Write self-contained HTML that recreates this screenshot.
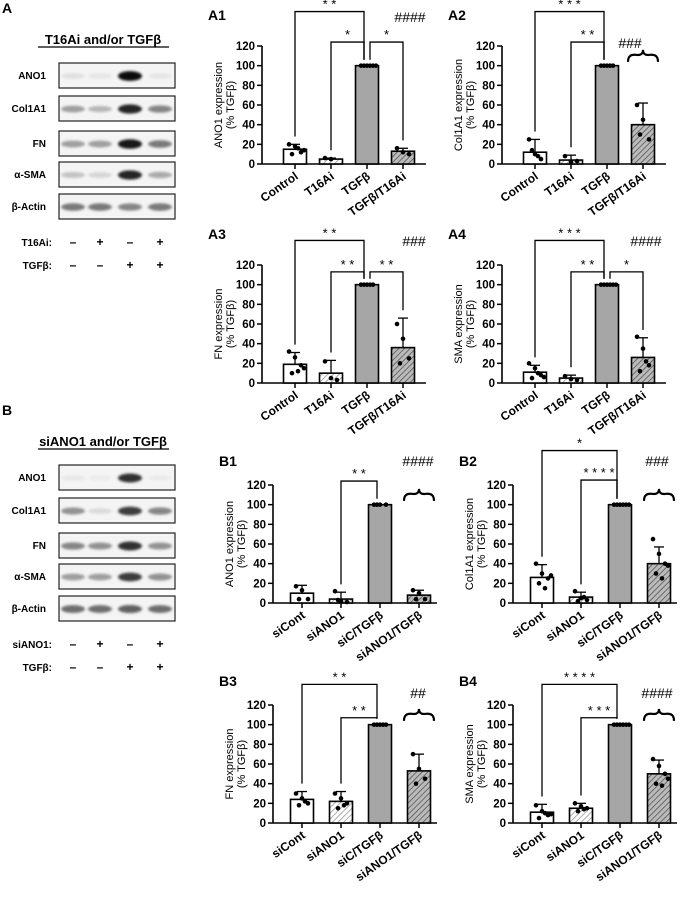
<!DOCTYPE html>
<html><head><meta charset="utf-8"><style>
html,body{margin:0;padding:0;background:#fff}
svg{display:block;font-family:"Liberation Sans",Arial,sans-serif}
</style></head><body>
<svg id="fig" width="680" height="900" viewBox="0 0 680 900" xmlns="http://www.w3.org/2000/svg">
<defs>
<pattern id="hatchLight" patternUnits="userSpaceOnUse" width="4" height="4" patternTransform="rotate(45)"><rect width="4" height="4" fill="#fff"/><line x1="0" y1="0" x2="0" y2="4" stroke="#999" stroke-width="1.6"/></pattern>
<pattern id="hatchDark" patternUnits="userSpaceOnUse" width="4" height="4" patternTransform="rotate(45)"><rect width="4" height="4" fill="#bbb"/><line x1="0" y1="0" x2="0" y2="4" stroke="#555" stroke-width="1.6"/></pattern>
<filter id="blur" x="-50%" y="-100%" width="200%" height="300%"><feGaussianBlur stdDeviation="1.4"/></filter>
</defs>
<g id="root"></g>
</svg>
<script>
// ---------- chart data ----------
const catsA = ["Control","T16Ai","TGFβ","TGFβ/T16Ai"];
const catsB = ["siCont","siANO1","siC/TGFβ","siANO1/TGFβ"];
const titlesA = ["ANO1 expression","Col1A1 expression","FN expression","SMA expression"];
const titlesB = ["ANO1 expression","Col1A1 expression","FN expression","SMA expression"];
const yTicks = [0,20,40,60,80,100,120];
const valsA1 = [15,5,100,13], errA1 = [5,1,0,3];
const valsA2 = [12,4,100,40], errA2 = [13,5,0,22];
const valsA3 = [19,10,100,36], errA3 = [12,13,0,30];
const valsA4 = [11,5,100,26], errA4 = [7,3,0,20];
const valsB1 = [10,4,100,8], errB1 = [8,7,0,5];
const valsB2 = [26,6,100,40], errB2 = [13,5,0,17];
const valsB3 = [24,22,100,53], errB3 = [8,10,0,17];
const valsB4 = [11,15,100,50], errB4 = [8,5,0,14];
const ptsA1 = [[20,18,12,10,16,14],[6,5],[100,100,100,100,100,100],[16,12,10]];
const ptsA2 = [[25,10,5,14,8],[8,2,3],[100,100,100,100,100],[60,45,25,30]];
const ptsA3 = [[32,26,18,10,12,15],[22,5,3],[100,100,100,100,100],[60,45,25,20]];
const ptsA4 = [[20,15,8,5,10,6],[7,4,3],[100,100,100,100,100,100],[47,35,18,12,22]];
const ptsB1 = [[17,13,4,4],[12,2,1,3],[100,100,100,100],[13,10,4,4]];
const ptsB2 = [[40,30,25,20,15,28],[12,5,3,2,6],[100,100,100,100,100,100],[65,50,40,30,25,38]];
const ptsB3 = [[30,25,20,18,22],[30,25,20,15,18],[100,100,100,100,100],[70,55,45,40]];
const ptsB4 = [[18,12,8,5,10,9],[20,17,15,12,14],[100,100,100,100,100,100],[65,58,50,40,38,45]];
// significance: [from,to,level(value units),label]
const sigA1 = [[0,2,155,"* *"],[1,2,124,"*"],[2,3,124,"*"]];
const sigA2 = [[0,2,155,"* * *"],[1,2,124,"* *"]];
const sigA3 = [[0,2,145,"* *"],[1,2,113,"* *"],[2,3,113,"* *"]];
const sigA4 = [[0,2,145,"* * *"],[1,2,113,"* *"],[2,3,113,"*"]];
const sigB1 = [[1,2,124,"* *"]];
const sigB2 = [[0,2,155,"*"],[1,2,125,"* * * *"]];
const sigB3 = [[0,2,141,"* *"],[1,2,107,"* *"]];
const sigB4 = [[0,2,141,"* * * *"],[1,2,107,"* * *"]];
const hashes = ["####","###","###","####","####","###","##","####"];

const NS="http://www.w3.org/2000/svg";
const root=document.getElementById('root');
function el(tag,attrs,parent,text){const e=document.createElementNS(NS,tag);for(const k in attrs)e.setAttribute(k,attrs[k]);if(text!==undefined)e.textContent=text;(parent||root).appendChild(e);return e;}

const charts=[
 {id:"a1",lab:"A1",ax:262,y0:164,cats:catsA,t:titlesA[0],v:valsA1,e:errA1,p:ptsA1,s:sigA1,brace:false,h:hashes[0],hx:410,hy:22,off:33,sp:36},
 {id:"a2",lab:"A2",ax:502,y0:164,cats:catsA,t:titlesA[1],v:valsA2,e:errA2,p:ptsA2,s:sigA2,brace:true,h:hashes[1],hx:630,hy:48,off:33,sp:36},
 {id:"a3",lab:"A3",ax:262,y0:383,cats:catsA,t:titlesA[2],v:valsA3,e:errA3,p:ptsA3,s:sigA3,brace:false,h:hashes[2],hx:414,hy:246,off:33,sp:36},
 {id:"a4",lab:"A4",ax:502,y0:383,cats:catsA,t:titlesA[3],v:valsA4,e:errA4,p:ptsA4,s:sigA4,brace:false,h:hashes[3],hx:646,hy:246,off:33,sp:36},
 {id:"b1",lab:"B1",ax:273,y0:603,cats:catsB,t:titlesB[0],v:valsB1,e:errB1,p:ptsB1,s:sigB1,brace:true,h:hashes[4],hx:418,hy:466,off:29,sp:39},
 {id:"b2",lab:"B2",ax:513,y0:603,cats:catsB,t:titlesB[1],v:valsB2,e:errB2,p:ptsB2,s:sigB2,brace:true,h:hashes[5],hx:657,hy:466,off:29,sp:39},
 {id:"b3",lab:"B3",ax:273,y0:823,cats:catsB,t:titlesB[2],v:valsB3,e:errB3,p:ptsB3,s:sigB3,brace:true,h:hashes[6],hx:418,hy:698,off:29,sp:39},
 {id:"b4",lab:"B4",ax:513,y0:823,cats:catsB,t:titlesB[3],v:valsB4,e:errB4,p:ptsB4,s:sigB4,brace:true,h:hashes[7],hx:657,hy:698,off:29,sp:39}
];
const fills=["#fff","url(#hatchLight)","#a6a6a6","url(#hatchDark)"];
const K=118/120;
charts.forEach(c=>{
 const g=el('g',{});
 
 
 const y=v=>c.y0-v*K;
 const x=i=>c.ax+c.off+i*c.sp;
 const bw=23;
 const lab=el('text',{x:c.ax-54,y:(c.id[0]=='a'?c.y0-144:c.y0-137),'font-size':14,'font-weight':'bold'},g,c.lab);
 
 
 const ya=el('line',{x1:c.ax,y1:y(120),x2:c.ax,y2:c.y0,stroke:'#000','stroke-width':1.6},g);
 
 
 yTicks.forEach(t=>{
  el('line',{x1:c.ax-5,y1:y(t),x2:c.ax,y2:y(t),stroke:'#000','stroke-width':1.5},g);
  const tl=el('text',{x:c.ax-7,y:y(t)+4,'font-size':11.5,'font-weight':'bold','text-anchor':'end'},g,t);
  
  
 });
 const xa=el('line',{x1:c.ax,y1:c.y0,x2:c.ax+164,y2:c.y0,stroke:'#000','stroke-width':1.6},g);
 
 
 const tx=c.ax-40, ty=y(60);
 const yt=el('text',{transform:`translate(${tx},${ty}) rotate(-90)`,'font-size':11,'text-anchor':'middle'},g);
 
 
 el('tspan',{x:0,y:0},yt,c.t);
 el('tspan',{x:0,y:12},yt,'(% TGFβ)');
 c.cats.forEach((cat,i)=>{
  const cx=x(i);
  const v=c.v[i];
  const b=el('rect',{x:cx-bw/2,y:y(v),width:bw,height:v*K,fill:fills[i],stroke:'#000','stroke-width':1.6},g);
  
  
  el('line',{x1:cx,y1:c.y0,x2:cx,y2:c.y0+5,stroke:'#000','stroke-width':1.5},g);
  if(c.e[i]>0){
   el('line',{x1:cx,y1:y(v+c.e[i]),x2:cx,y2:y(v),stroke:'#000','stroke-width':1.3},g);
   el('line',{x1:cx-5,y1:y(v+c.e[i]),x2:cx+5,y2:y(v+c.e[i]),stroke:'#000','stroke-width':1.3},g);
  }
  c.p[i].forEach((pv,j)=>{
   const dx=((j%3)-1)*6+(j>=3?3:0);
   const d=el('circle',{cx:cx+dx,cy:y(pv),r:2.3,fill:'#000'},g);
   
   
  });
  const cl=el('text',{transform:`translate(${cx+4},${c.y0+14}) rotate(-35)`,'font-size':12,'font-weight':'bold','text-anchor':'end'},g,cat);
  
  
 });
 const top=i=>c.v[i]+c.e[i]+ (i==2?6:8);
 c.s.forEach(s=>{
  const x1=x(s[0])+(s[0]==2?3:0), x2=x(s[1])-(s[1]==2?3:0);
  const bg=el('path',{d:`M${x1},${y(top(s[0]))}V${y(s[2])}H${x2}V${y(top(s[1]))}`,fill:'none',stroke:'#000','stroke-width':1.3},g);
  
  
  el('text',{x:(x1+x2)/2,y:y(s[2])-3,'font-size':13,'text-anchor':'middle'},g,s[3]);
 });
 if(c.brace){
  const cx=x(3), by=y(c.v[3]+c.e[3]>100?c.v[3]+c.e[3]+8:110);
  const br=el('path',{d:`M${cx-15},${by+6}Q${cx-15},${by-2} ${cx-7},${by-1}Q${cx},${by} ${cx},${by-6}Q${cx},${by} ${cx+7},${by-1}Q${cx+15},${by-2} ${cx+15},${by+6}`,fill:'none',stroke:'#000','stroke-width':2.2},g);
  
  
 }
 const hs=el('text',{x:c.hx,y:c.hy,'font-size':14,'text-anchor':'middle'},g,c.h);
 
 
});

// ---------- western blots ----------
const rowsA=["ANO1","Col1A1","FN","α-SMA","β-Actin"];
const intensA=[[0.08,0.06,0.95,0.06],[0.35,0.25,0.85,0.45],[0.35,0.35,0.9,0.5],[0.2,0.12,0.85,0.3],[0.5,0.5,0.45,0.5]];
const intensB=[[0.05,0.03,0.8,0.04],[0.4,0.1,0.75,0.45],[0.45,0.4,0.8,0.4],[0.35,0.35,0.75,0.4],[0.55,0.55,0.6,0.55]];
const signsA1=["–","+","–","+"], signsA2=["–","–","+","+"];
function blot(off,title,rowInt,treat,pfx,letter){
 const g=el('g',{});
 
 
 el('text',{x:2,y:off+13,'font-size':14,'font-weight':'bold'},g,letter);
 const t=el('text',{x:103,y:off+44,'font-size':13,'font-weight':'bold','text-anchor':'middle'},g,title);
 
 
 el('line',{x1:38,y1:off+47,x2:169,y2:off+47,stroke:'#000','stroke-width':1.2},g);
 const rowsY=[63,96,131,162,194];
 const lanes=[73,100,130,160];
 rowsA.forEach((r,ri)=>{
  const ry=off+rowsY[ri];
  el('rect',{x:59,y:ry,width:116,height:25,fill:'#f4f4f4',stroke:'#222','stroke-width':1.2},g);
  const rl=el('text',{x:46,y:ry+16,'font-size':10,'font-weight':'bold','text-anchor':'end'},g,r);
  
  
  lanes.forEach((lx,li)=>{
   const a=rowInt[ri][li];
   const band=el('ellipse',{cx:lx,cy:ry+13,rx:12,ry:2.5+2.5*a,fill:'#000',opacity:a,filter:'url(#blur)'},g);
   
   
  });
 });
 const tl=el('text',{x:52,y:off+246,'font-size':10,'font-weight':'bold','text-anchor':'end'},g,treat+":");
 
 
 const tg=el('text',{x:52,y:off+269,'font-size':10,'font-weight':'bold','text-anchor':'end'},g,"TGFβ:");
 
 
 lanes.forEach((lx,li)=>{
  el('text',{x:lx,y:off+246,'font-size':12,'font-weight':'bold','text-anchor':'middle'},g,signsA1[li]);
  el('text',{x:lx,y:off+269,'font-size':12,'font-weight':'bold','text-anchor':'middle'},g,signsA2[li]);
 });
}
blot(0,"T16Ai and/or TGFβ",intensA,"T16Ai","a","A");
blot(402,"siANO1 and/or TGFβ",intensB,"siANO1","b","B");
</script>
</body></html>
